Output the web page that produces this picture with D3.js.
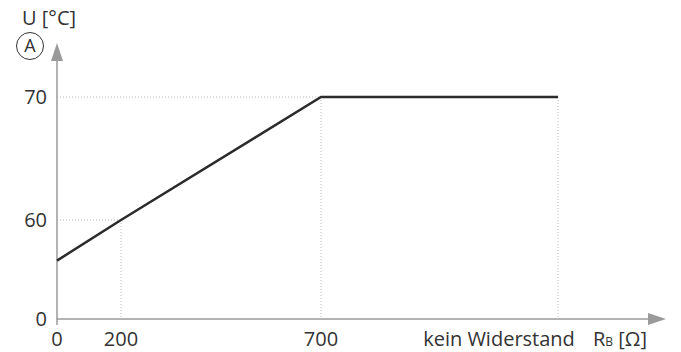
<!DOCTYPE html>
<html>
<head>
<meta charset="utf-8">
<script src="https://cdn.jsdelivr.net/npm/d3@7"></script>
<style>
  body { margin: 0; background: #fff; }
  text { font-family: "Open Sans", sans-serif; fill: #333; }
</style>
</head>
<body>
<div id="chart"></div>
<script>
// Kennlinie U über R_B (schematisch, Achsen nicht maßstäblich)
const xKeys = ['0', '200', '700', 'kein'];
const xTickLabels = ['0', '200', '700', 'kein Widerstand'];
const yTicks = [0, 60, 70];
const curveX = ['0', '200', '700', 'kein'];
const curveY = [56.7, 60, 70, 70];
const guides = [
  { x: '200', y: 60, horiz: true },
  { x: '700', y: 70, horiz: true },
  { x: 'kein', y: 70, horiz: false }
];

const W = 681, H = 352;
const svg = d3.select('#chart').append('svg')
  .attr('width', W).attr('height', H);

// stückweise Skalen, weil die Vorlage nicht linear gezeichnet ist
const x = d3.scaleOrdinal().domain(xKeys).range([57, 121, 321, 558]);
const y = d3.scaleLinear().domain([0, 55, 70]).range([319, 281.5, 97]);

const axisColor = '#9a9a9a';
const gridColor = '#b8b8b8';
const fs = '20px';

// Hilfslinien gepunktet
guides.forEach(g => {
  if (g.horiz) {
    svg.append('line')
      .attr('x1', x('0')).attr('x2', x(g.x))
      .attr('y1', y(g.y)).attr('y2', y(g.y))
      .attr('stroke', gridColor).attr('stroke-width', 1)
      .attr('stroke-dasharray', '1,2');
  }
  svg.append('line')
    .attr('x1', x(g.x)).attr('x2', x(g.x))
    .attr('y1', y(g.y)).attr('y2', y(0))
    .attr('stroke', gridColor).attr('stroke-width', 1)
    .attr('stroke-dasharray', '1,2');
});

// Achsen mit Pfeilen
svg.append('line')
  .attr('x1', x('0')).attr('x2', x('0'))
  .attr('y1', y(0) + 6).attr('y2', 60)
  .attr('stroke', axisColor).attr('stroke-width', 1.5);
svg.append('path')
  .attr('d', `M${x('0')},43 L${x('0') - 6},61 L${x('0') + 6},61 Z`)
  .attr('fill', axisColor);

svg.append('line')
  .attr('x1', x('0')).attr('x2', 650)
  .attr('y1', y(0)).attr('y2', y(0))
  .attr('stroke', axisColor).attr('stroke-width', 1.5);
svg.append('path')
  .attr('d', `M666,${y(0)} L648,${y(0) - 6} L648,${y(0) + 6} Z`)
  .attr('fill', axisColor);

// Kennlinie
const line = d3.line()
  .x((d, i) => x(curveX[i]))
  .y(d => y(d));
svg.append('path')
  .datum(curveY)
  .attr('d', line)
  .attr('fill', 'none')
  .attr('stroke', '#2b2b2b')
  .attr('stroke-width', 2.5);

// Y-Beschriftung
svg.selectAll('.ytick')
  .data(yTicks)
  .join('text')
  .attr('class', 'ytick')
  .attr('x', 47)
  .attr('y', d => y(d))
  .attr('dy', '0.35em')
  .attr('text-anchor', 'end')
  .style('font-size', fs)
  .text(d => d);

// X-Beschriftung
svg.selectAll('.xtick')
  .data(xKeys)
  .join('text')
  .attr('class', 'xtick')
  .attr('x', (d, i) => i === 3 ? 499 : x(d))
  .attr('y', 346)
  .attr('text-anchor', 'middle')
  .style('font-size', fs)
  .text((d, i) => xTickLabels[i]);

// Achsentitel
svg.append('text')
  .attr('x', 22).attr('y', 25)
  .style('font-size', fs)
  .text('U [°C]');

svg.append('circle')
  .attr('cx', 30).attr('cy', 46).attr('r', 13.5)
  .attr('fill', 'none').attr('stroke', '#333').attr('stroke-width', 1);
svg.append('text')
  .attr('x', 30).attr('y', 46).attr('dy', '0.35em')
  .attr('text-anchor', 'middle')
  .style('font-size', '18px')
  .text('A');

const rb = svg.append('text')
  .attr('x', 593).attr('y', 346)
  .style('font-size', fs);
rb.append('tspan').text('R');
rb.append('tspan').style('font-size', '12px').text('B');
rb.append('tspan').text(' [Ω]');
</script>
</body>
</html>
